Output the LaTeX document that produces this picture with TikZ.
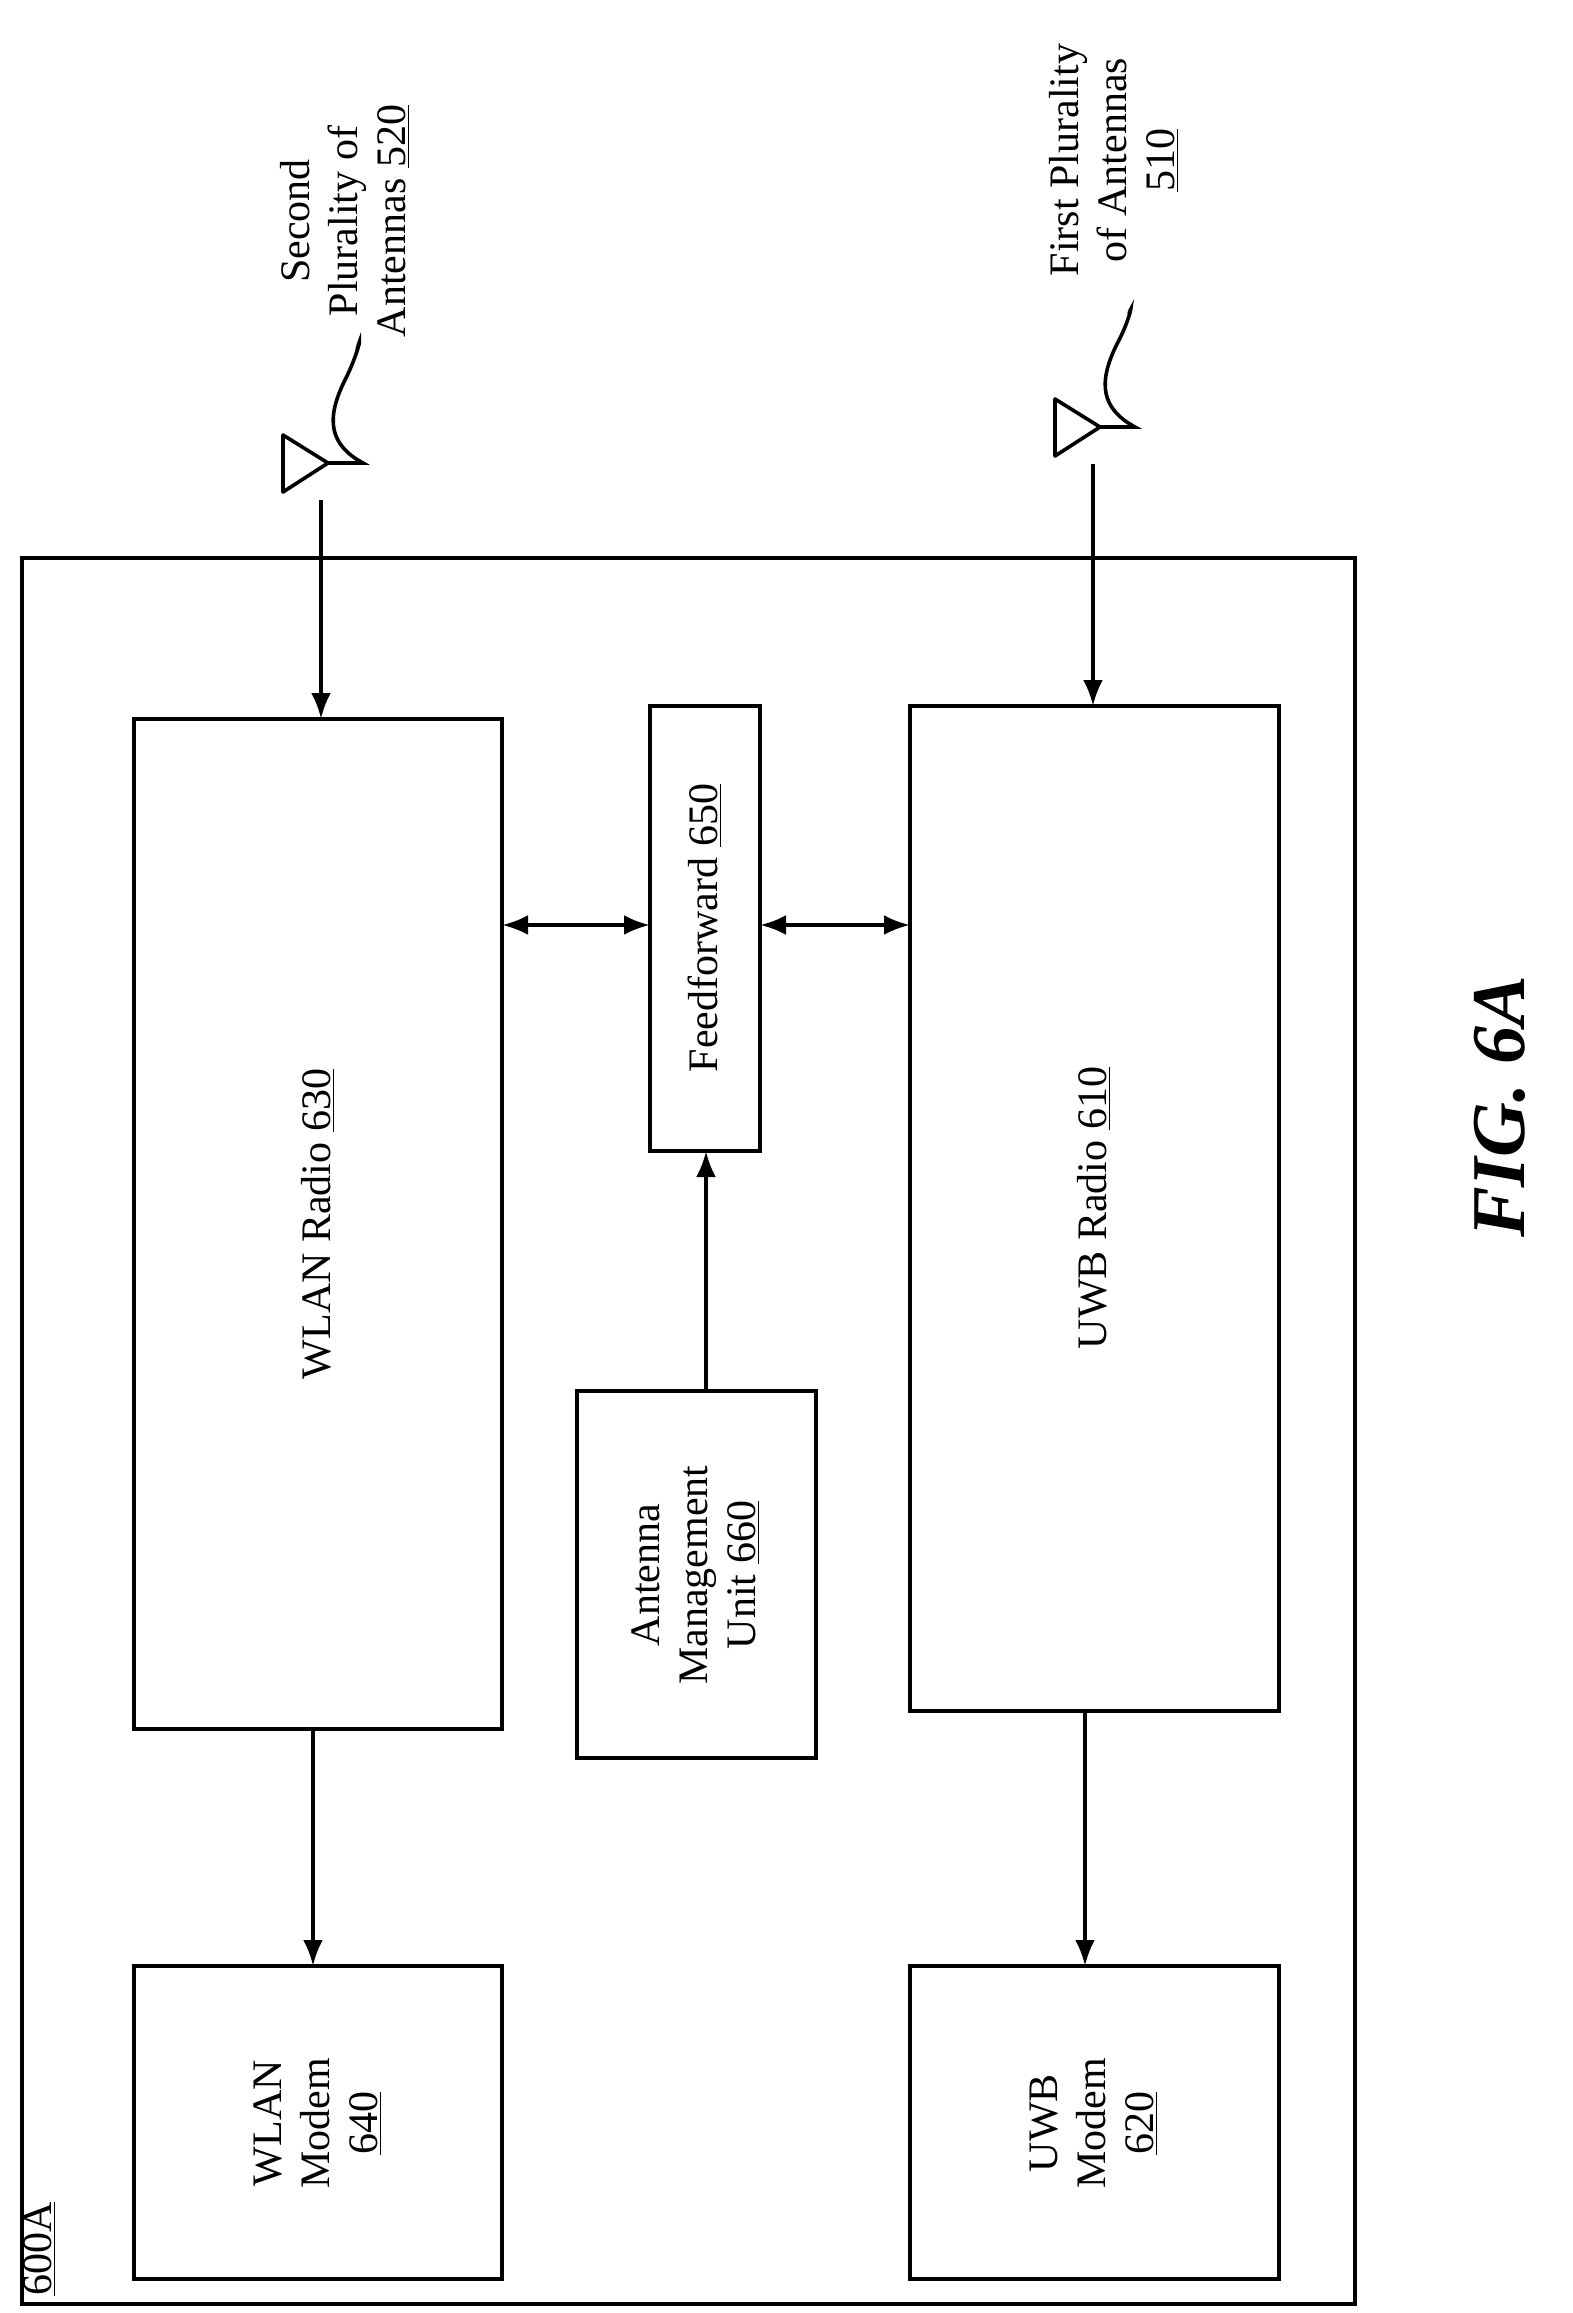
\documentclass[tikz,border=0pt]{standalone}
\usetikzlibrary{arrows.meta}
\usepackage{fontspec}
\setmainfont{Liberation Serif}
\begin{document}
\begin{tikzpicture}[x=0.5pt,y=-0.5pt,
 box/.style={draw,line width=1.6pt},
 lbl/.style={rotate=90,align=center,font=\fontsize{21}{24}\selectfont},
 arr/.style={line width=2pt,-{Latex[length=13pt,width=10pt]}},
 darr/.style={line width=2pt,{Latex[length=13pt,width=10pt]}-{Latex[length=13pt,width=10pt]}}]
\useasboundingbox (0,0) rectangle (1573,2313);
\draw[box] (22,558) rectangle (1355,2304);
\node[lbl,anchor=south west,inner sep=2pt] (lab600) at (60,2300) {\underline{600A}};
\draw[box] (134,719) rectangle (502,1729);
\node[lbl] (wlan) at (318,1224) {WLAN Radio \underline{630}};
\draw[box] (650,706) rectangle (760,1151);
\node[lbl] (ff) at (705,928) {Feedforward \underline{650}};
\draw[box] (910,706) rectangle (1279,1711);
\node[lbl] (uwb) at (1094,1208) {UWB Radio \underline{610}};
\draw[box] (577,1391) rectangle (816,1758);
\node[lbl] (amu) at (696,1575) {Antenna\\Management\\Unit \underline{660}};
\draw[box] (134,1966) rectangle (502,2279);
\node[lbl] (wm) at (318,2123) {WLAN\\Modem\\\underline{640}};
\draw[box] (910,1966) rectangle (1279,2279);
\node[lbl] (um) at (1094,2123) {UWB\\Modem\\\underline{620}};
% arrows
\draw[arr] (321,500) -- (321,719);
\draw[arr] (1093,464) -- (1093,706);
\draw[darr] (502,925) -- (650,925);
\draw[darr] (760,925) -- (910,925);
\draw[arr] (706,1391) -- (706,1151);
\draw[arr] (313,1729) -- (313,1966);
\draw[arr] (1085,1711) -- (1085,1966);
% antennas
\draw[line width=1.8pt,line join=round] (283,435) -- (283,492) -- (328,463) -- cycle;
\draw[line width=1.8pt,line cap=round] (328,463) -- (363,463) .. controls (330,445) and (325,420) .. (345,380) .. controls (360,350) and (362,330) .. (357,350);
\draw[line width=1.8pt,line join=round] (1055,399) -- (1055,456) -- (1100,427) -- cycle;
\draw[line width=1.8pt,line cap=round] (1100,427) -- (1135,427) .. controls (1102,409) and (1097,384) .. (1117,344) .. controls (1130,320) and (1133,300) .. (1129,314);
\node[lbl] (a520) at (345,221) {Second\\Plurality of\\Antennas \underline{520}};
\node[lbl] (a510) at (1114,160) {First Plurality\\of Antennas\\\underline{510}};
\node[rotate=90,font=\fontsize{38}{44}\selectfont\bfseries\itshape] (fig) at (1500,1107) {FIG. 6A};
\end{tikzpicture}
\end{document}
